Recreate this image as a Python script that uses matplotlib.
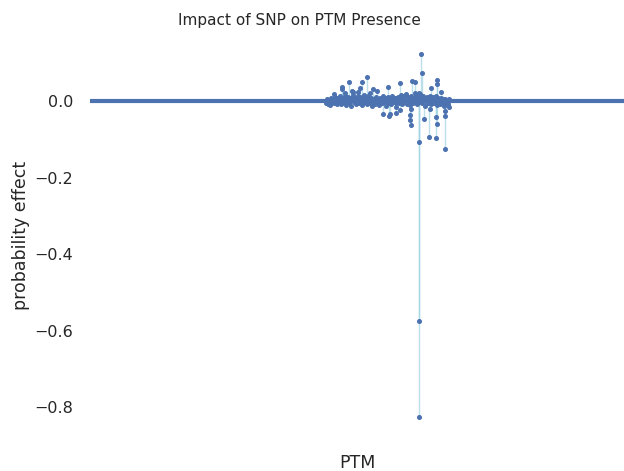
import matplotlib
matplotlib.use("Agg")
import matplotlib.pyplot as plt
import seaborn as sns
import numpy as np

sns.set_theme(style="white")
plt.rcParams['font.family'] = ['DejaVu Sans']

# SNP positions and probability effects
outlier_pos = [331, 332, 277, 259, 272, 252, 252, 270, 283, 298, 310, 322, 325, 347, 347, 341, 351, 244,
               268, 263, 280, 287, 255, 262,
               293, 300, 299, 306, 310, 321, 320, 320, 321, 329, 334, 339, 346, 346, 347, 355, 355, 355, 359, 340,
               329, 329]
outlier_eff = [0.123, 0.072, 0.063, 0.050, 0.049, 0.037, 0.031, 0.034, 0.031, 0.037, 0.046, 0.053, 0.051, 0.055, 0.044, 0.033, 0.024, 0.018,
               0.024, 0.023, 0.022, 0.025, 0.020, 0.026,
               -0.034, -0.034, -0.038, -0.031, -0.024, -0.022, -0.037, -0.050, -0.063, -0.106, -0.048, -0.093, -0.098, -0.041, -0.060, -0.025, -0.039, -0.126, -0.015, -0.020,
               -0.574, -0.827]

dense_pos = [236, 237, 238, 239, 240, 241, 242, 243, 244, 245, 246, 247, 248, 249, 250, 251, 252, 253, 254, 255,
             256, 257, 258, 259, 260, 261, 262, 263, 264, 265, 266, 267, 268, 269, 270, 271, 272, 273, 274, 275,
             276, 277, 278, 279, 280, 281, 282, 283, 284, 285, 286, 287, 288, 289, 290, 291, 292, 293, 294, 295,
             296, 297, 298, 299, 300, 301, 302, 303, 304, 305, 306, 307, 308, 309, 310, 311, 312, 313, 314, 315,
             316, 317, 318, 319, 320, 321, 322, 323, 324, 325, 326, 327, 328, 329, 330, 331, 332, 333, 334, 335,
             336, 337, 338, 339, 340, 341, 342, 343, 344, 345, 346, 347, 348, 349, 350, 351, 352, 353, 354, 355,
             356, 357, 358, 359, 238, 242, 246, 250, 254, 258, 262, 266, 270, 274, 278, 282, 286, 290, 294, 298,
             302, 306, 310, 314, 318, 322, 326, 330, 334, 338, 342, 346, 350, 354, 240, 248, 256, 264, 272, 280,
             288, 296, 304, 312, 320, 328, 336, 344, 352]
dense_eff = [-0.004, 0.006, -0.008, 0.003, -0.011, 0.008, -0.002, 0.005, -0.006, 0.010, 0.002, -0.009, 0.007, -0.003, 0.012, -0.007, 0.004, 0.009, -0.005, 0.014,
             -0.010, 0.003, 0.011, -0.004, 0.008, -0.012, 0.006, 0.015, -0.002, 0.009, -0.008, 0.004, 0.013, -0.006, 0.010, 0.002, -0.011, 0.007, 0.016, -0.003,
             0.005, -0.009, 0.012, 0.001, -0.005, 0.009, -0.014, 0.006, 0.003, -0.007, 0.011, -0.002, 0.004, -0.010, 0.008, 0.002, -0.006, 0.013, -0.003, 0.007,
             -0.012, 0.005, 0.010, -0.004, 0.003, -0.008, 0.014, 0.006, -0.002, 0.009, -0.015, 0.004, 0.011, -0.006, 0.002, 0.016, -0.009, 0.007, 0.012, -0.003,
             0.018, -0.007, 0.010, 0.004, -0.011, 0.013, 0.006, -0.004, 0.009, 0.020, 0.015, -0.008, 0.012, 0.022, 0.018, 0.010, -0.005, 0.014, 0.003, -0.012,
             0.008, 0.011, -0.004, 0.006, 0.013, -0.009, 0.004, 0.010, -0.006, 0.002, 0.012, -0.011, 0.007, 0.003, -0.008, 0.009, -0.003, 0.005, -0.014, 0.006,
             -0.005, 0.002, -0.009, 0.004, 0.002, -0.003, 0.004, -0.002, 0.003, -0.004, 0.002, -0.003, 0.004, -0.002, 0.003, -0.005, 0.002, -0.003, 0.004, -0.002,
             0.003, -0.004, 0.005, -0.002, 0.003, -0.004, 0.005, -0.003, 0.004, -0.002, 0.003, -0.005, 0.002, -0.003, -0.001, 0.001, -0.001, 0.001, -0.001, 0.001,
             -0.001, 0.001, -0.001, 0.001, -0.001, 0.001, -0.001, 0.001, -0.001]

pos = np.array(outlier_pos + dense_pos, dtype=float)
eff = np.array(outlier_eff + dense_eff)

fig = plt.figure(figsize=(6.24, 4.71), dpi=100)
ax = fig.add_axes([90/624, 1-435.7/471, 1-90/624, (435.7-35.6)/471])

ax.vlines(pos, 0, eff, color='#9fd3e3', alpha=0.7, lw=1, zorder=1)
ax.axhline(0, color='#4c72b0', lw=3, zorder=2)
ax.plot(pos, eff, 'o', color='#4c72b0', ms=2.6, zorder=3)

ax.set_xlim(0, 534)
ax.set_ylim(-0.875, 0.171)
ax.set_xticks([])
ax.set_yticks([0.0, -0.2, -0.4, -0.6, -0.8])
ax.tick_params(axis='y', labelsize=11.5, pad=6)
for s in ax.spines.values():
    s.set_visible(False)
ax.set_ylabel('probability effect', fontsize=12.5, labelpad=3)
ax.set_xlabel('PTM', fontsize=12.5, labelpad=13)
fig.text(299/624, 1-20/471, 'Impact of SNP on PTM Presence', ha='center', va='center', fontsize=11)

fig.savefig('out.png', dpi=100)
